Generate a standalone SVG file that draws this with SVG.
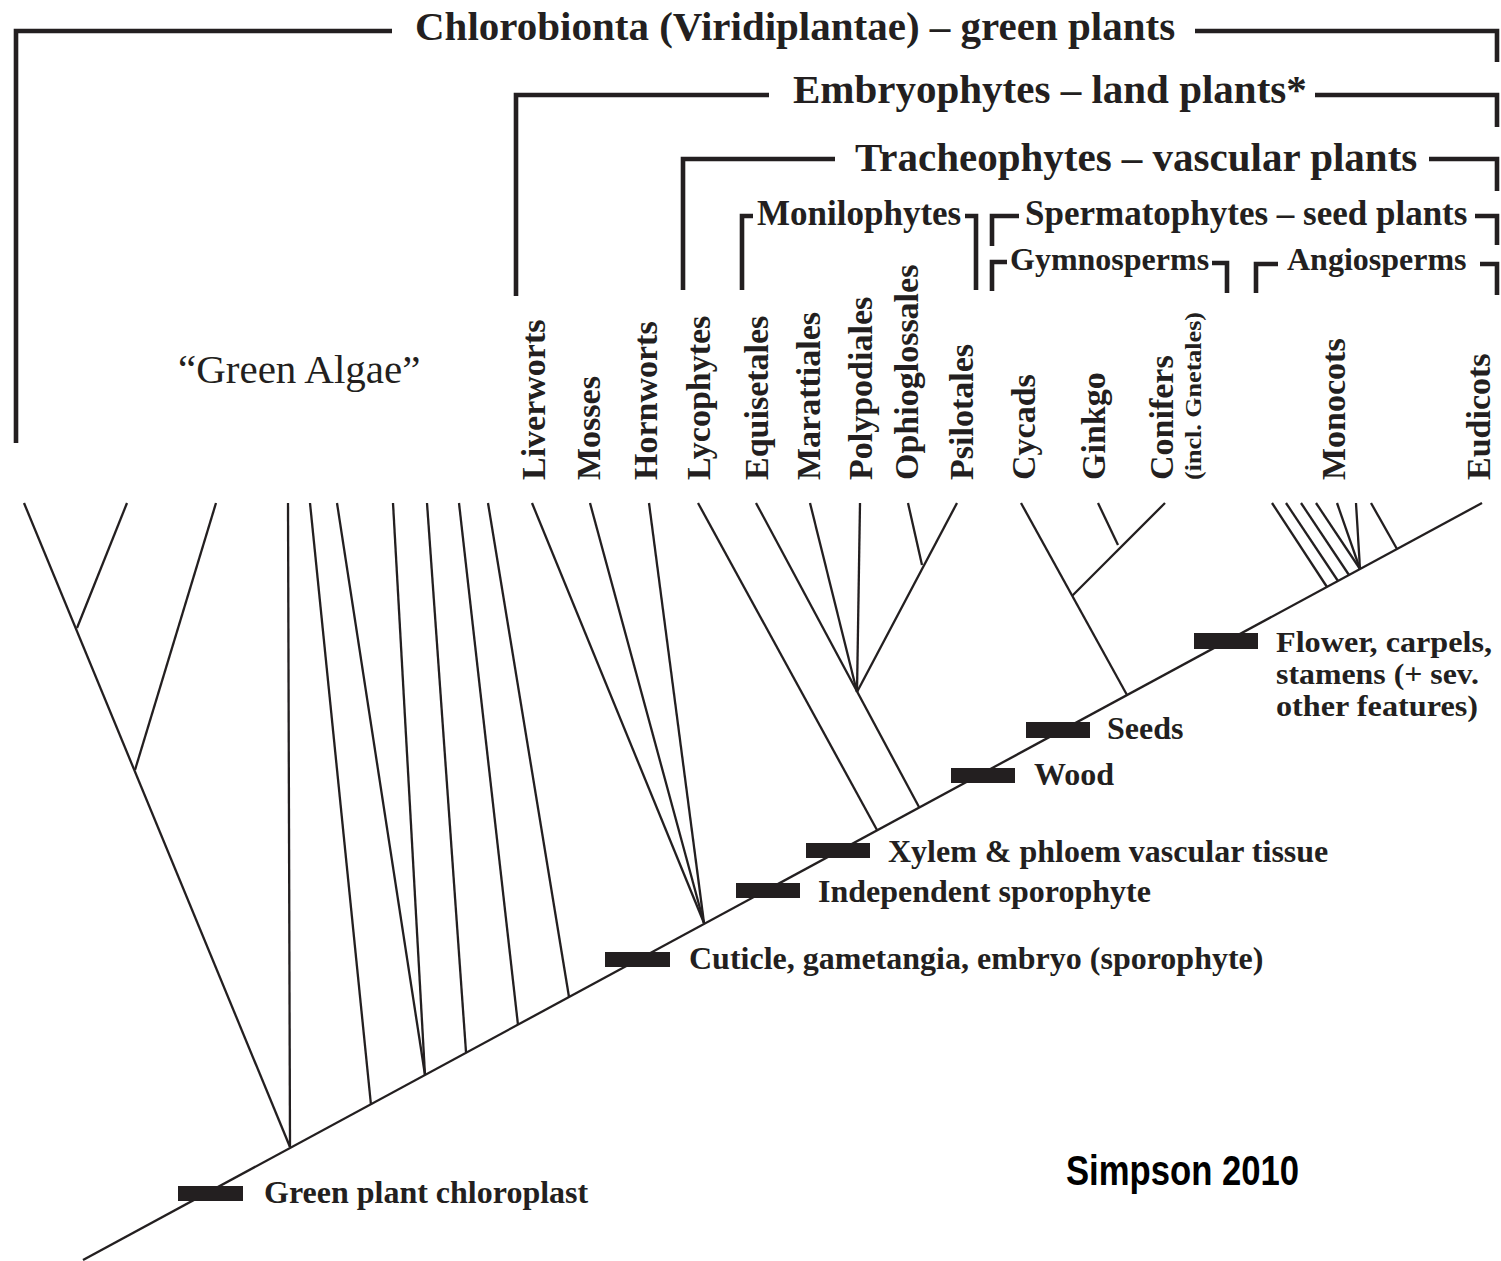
<svg xmlns="http://www.w3.org/2000/svg" width="1501" height="1261" viewBox="0 0 1501 1261">
<style>
.br{fill:none;stroke:#231f20;stroke-width:4.6;stroke-linejoin:miter;stroke-linecap:butt}
.ln{fill:none;stroke:#231f20;stroke-width:2.3;stroke-linecap:butt}
.bar{fill:#231f20}
.t{font-family:"Liberation Serif","Times New Roman",serif;font-weight:bold;fill:#231f20}
.t40{font-size:41px}
.t35{font-size:35px}
.t32{font-size:32px}
.v{font-size:34px}
.f{font-size:32px}
.f2{font-size:30px}
.ga{font-family:"Liberation Serif","Times New Roman",serif;font-size:41px;fill:#231f20}
.sim{font-family:"Liberation Sans",Arial,sans-serif;font-weight:bold;font-size:42px;fill:#000}
</style>
<rect width="1501" height="1261" fill="#fff"/>

<g id="clade-chlorobionta">
<path class="br" d="M392,31 H16 V443"/>
<path class="br" d="M1195,31 H1497 V62"/>
<text class="t t40" x="415" y="40">Chlorobionta (Viridiplantae) – green plants</text>
</g>
<g id="clade-embryophytes">
<path class="br" d="M769,95 H516 V296"/>
<path class="br" d="M1315,95 H1497 V127"/>
<text class="t t40" x="793" y="103">Embryophytes – land plants*</text>
</g>
<g id="clade-tracheophytes">
<path class="br" d="M835,159 H683 V290"/>
<path class="br" d="M1429,159 H1497 V191"/>
<text class="t t40" x="855" y="171">Tracheophytes – vascular plants</text>
</g>
<g id="clade-monilophytes">
<path class="br" d="M753,216 H742 V290"/>
<path class="br" d="M965,216 H976 V290"/>
<text class="t t35" x="757" y="225">Monilophytes</text>
</g>
<g id="clade-spermatophytes">
<path class="br" d="M1019,216 H992 V246"/>
<path class="br" d="M1475,216 H1497 V245"/>
<text class="t t35" x="1025" y="225">Spermatophytes – seed plants</text>
</g>
<g id="clade-gymnosperms">
<path class="br" d="M1007,262 H992 V291"/>
<path class="br" d="M1212,263 H1227 V293"/>
<text class="t t32" x="1010" y="270">Gymnosperms</text>
</g>
<g id="clade-angiosperms">
<path class="br" d="M1278,264 H1256 V293"/>
<path class="br" d="M1480,264 H1497 V295"/>
<text class="t t32" x="1287" y="270">Angiosperms</text>
</g>

<g id="taxon-green-algae"><text class="ga" x="178" y="383">“Green Algae”</text></g>
<g id="taxon-liverworts"><text class="t v" transform="translate(545,480) rotate(-90)">Liverworts</text></g>
<g id="taxon-mosses"><text class="t v" transform="translate(600,480) rotate(-90)">Mosses</text></g>
<g id="taxon-hornworts"><text class="t v" transform="translate(657,480) rotate(-90)">Hornworts</text></g>
<g id="taxon-lycophytes"><text class="t v" transform="translate(710,480) rotate(-90)">Lycophytes</text></g>
<g id="taxon-equisetales"><text class="t v" transform="translate(768,480) rotate(-90)">Equisetales</text></g>
<g id="taxon-marattiales"><text class="t v" transform="translate(820,480) rotate(-90)">Marattiales</text></g>
<g id="taxon-polypodiales"><text class="t v" transform="translate(872,480) rotate(-90)">Polypodiales</text></g>
<g id="taxon-ophioglossales"><text class="t v" transform="translate(918,480) rotate(-90)">Ophioglossales</text></g>
<g id="taxon-psilotales"><text class="t v" transform="translate(973,480) rotate(-90)">Psilotales</text></g>
<g id="taxon-cycads"><text class="t v" transform="translate(1035,480) rotate(-90)">Cycads</text></g>
<g id="taxon-ginkgo"><text class="t v" transform="translate(1105,480) rotate(-90)">Ginkgo</text></g>
<g id="taxon-conifers">
<text class="t v" transform="translate(1173,480) rotate(-90)">Conifers</text>
<text class="t" font-size="24" transform="translate(1201,480) rotate(-90)" textLength="168" lengthAdjust="spacingAndGlyphs">(incl. Gnetales)</text>
</g>
<g id="taxon-monocots"><text class="t v" transform="translate(1345,480) rotate(-90)">Monocots</text></g>
<g id="taxon-eudicots"><text class="t v" transform="translate(1490,480) rotate(-90)">Eudicots</text></g>

<g id="connectors">
<path class="ln" d="M83,1260 L1482,503"/>
<path class="ln" d="M24,503 L290,1147"/>
<path class="ln" d="M127,503 L77,628"/>
<path class="ln" d="M216,503 L135,770"/>
<path class="ln" d="M288,503 L290,1147"/>
<path class="ln" d="M310,503 L371,1105"/>
<path class="ln" d="M337,503 L425,1075"/>
<path class="ln" d="M393,503 L425,1075"/>
<path class="ln" d="M427,503 L466,1052"/>
<path class="ln" d="M459,503 L518,1025"/>
<path class="ln" d="M488,503 L569,997"/>
<path class="ln" d="M532,503 L704,923"/>
<path class="ln" d="M590,503 L704,923"/>
<path class="ln" d="M649,503 L704,923"/>
<path class="ln" d="M698,503 L877,830"/>
<path class="ln" d="M756,503 L919,807"/>
<path class="ln" d="M810,503 L857,692"/>
<path class="ln" d="M860,503 L857,692"/>
<path class="ln" d="M908,503 L922,565"/>
<path class="ln" d="M957,503 L857,692"/>
<path class="ln" d="M1021,503 L1127,695"/>
<path class="ln" d="M1098,503 L1118,545"/>
<path class="ln" d="M1165,503 L1072,596"/>
<path class="ln" d="M1272,503 L1327,587"/>
<path class="ln" d="M1286,503 L1338,581"/>
<path class="ln" d="M1301,503 L1349,575"/>
<path class="ln" d="M1316,503 L1360,569"/>
<path class="ln" d="M1337,503 L1360,569"/>
<path class="ln" d="M1356,503 L1360,569"/>
<path class="ln" d="M1371,503 L1397,549"/>
</g>

<g id="feature-chloroplast">
<rect class="bar" x="178" y="1186" width="65" height="15"/>
<text class="t f" x="264" y="1203">Green plant chloroplast</text>
</g>
<g id="feature-cuticle">
<rect class="bar" x="605" y="952" width="65" height="15"/>
<text class="t f" x="689" y="969">Cuticle, gametangia, embryo (sporophyte)</text>
</g>
<g id="feature-sporophyte">
<rect class="bar" x="736" y="883" width="64" height="15"/>
<text class="t f" x="818" y="902">Independent sporophyte</text>
</g>
<g id="feature-xylem">
<rect class="bar" x="806" y="843" width="64" height="15"/>
<text class="t f" x="888" y="862">Xylem &amp; phloem vascular tissue</text>
</g>
<g id="feature-wood">
<rect class="bar" x="951" y="768" width="64" height="15"/>
<text class="t f" x="1034" y="785">Wood</text>
</g>
<g id="feature-seeds">
<rect class="bar" x="1026" y="722" width="64" height="16"/>
<text class="t f" x="1107" y="739">Seeds</text>
</g>
<g id="feature-flower">
<rect class="bar" x="1194" y="633" width="64" height="16"/>
<text class="t f2" x="1276" y="652" textLength="216" lengthAdjust="spacingAndGlyphs">Flower, carpels,</text>
<text class="t f2" x="1276" y="684" textLength="203" lengthAdjust="spacingAndGlyphs">stamens (+ sev.</text>
<text class="t f2" x="1276" y="716" textLength="202" lengthAdjust="spacingAndGlyphs">other features)</text>
</g>
<g id="credit">
<text class="sim" x="1066" y="1185" textLength="233" lengthAdjust="spacingAndGlyphs">Simpson 2010</text>
</g>
</svg>
